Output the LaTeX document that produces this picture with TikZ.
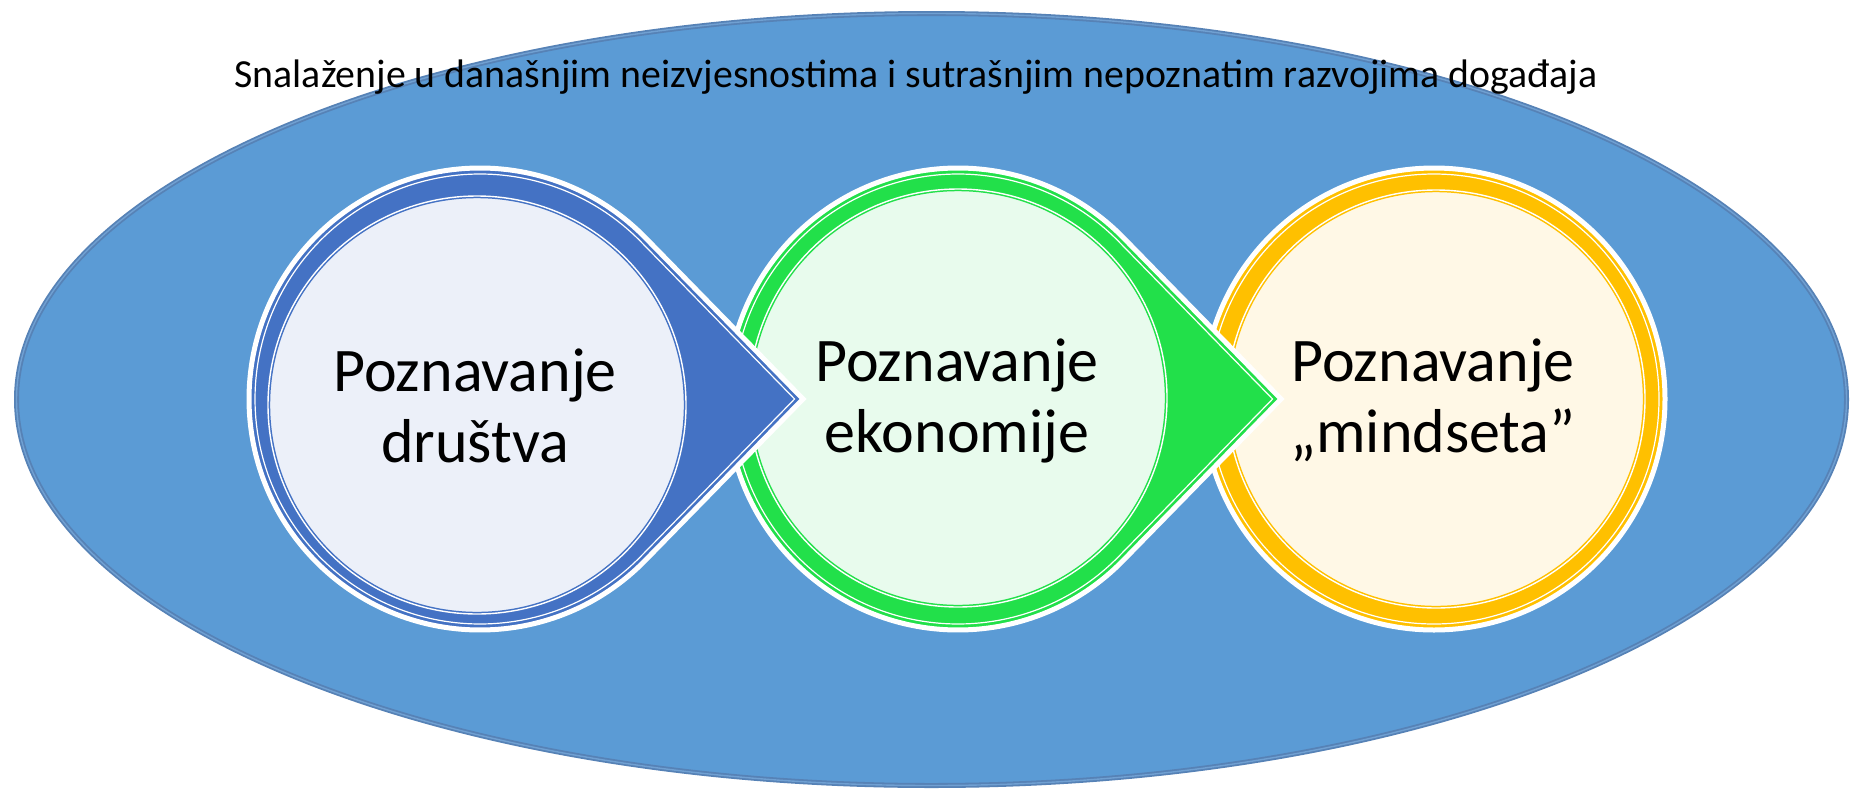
\documentclass[tikz,border=0pt]{standalone}
\usepackage{fontspec}
\setmainfont{Carlito}
\definecolor{bigfill}{RGB}{91,155,213}
\definecolor{bigedge}{RGB}{86,130,182}
\definecolor{bigdbl}{RGB}{112,160,210}
\definecolor{accA}{RGB}{68,114,196}
\definecolor{lightA}{RGB}{236,240,249}
\definecolor{accB}{RGB}{34,224,74}
\definecolor{lightB}{RGB}{232,251,237}
\definecolor{accC}{RGB}{255,192,0}
\definecolor{lightC}{RGB}{255,248,230}
\newcommand\dropshape[5]{%
  \pgfmathsetmacro\dang{acos(#3/#4)}%
  \pgfmathsetmacro\dangb{360-\dang}%
  \path[#5] (#1+#4,#2) -- ([shift={(#1,#2)}]\dang:#3)
    arc[start angle=\dang, end angle=\dangb, radius=#3] -- cycle;%
}
\begin{document}
\begin{tikzpicture}[x=1pt,y=-1pt,
  bigell/.style={fill=bigfill, draw=bigedge, line width=1.8pt, double=bigdbl, double distance=1.4pt},
  drop/.style={fill=#1, draw=white, line width=5pt, line join=miter},
  dropin/.style={draw=white, line width=1.2pt, line join=miter},
  core/.style 2 args={circle, inner sep=0pt, minimum size=418pt, fill=#2, draw=#1,
    line width=1.5pt, double=white, double distance=1.4pt},
  lbl/.style={font=\fontsize{62}{71}\selectfont, align=center, anchor=base, inner sep=0pt},
  ttl/.style={font=\fontsize{39.8}{47}\selectfont, anchor=base, inner sep=0pt}
]
\useasboundingbox (0,0) rectangle (1854,790);
\fill[white] (0,0) rectangle (1854,790);
% big ellipse
\path[bigell] (931.5,399.5) ellipse[x radius=915, y radius=386];
% stage 3 (yellow, no arrow)
\draw[drop=accC] (1434,399) circle[radius=231];
\draw[dropin] (1434,399) circle[radius=225];
\node[core={accC}{lightC}] (c3) at (1436,399) {};
% stage 2 (green)
\dropshape{958}{399}{231}{323}{drop=accB}
\dropshape{958}{399}{225}{314.6}{dropin}
\node[core={accB}{lightB}] (c2) at (958,398) {};
% stage 1 (blue)
\dropshape{480}{399}{231}{323}{drop=accA}
\dropshape{480}{399}{225}{314.6}{dropin}
\node[core={accA}{lightA}] (c1) at (477,405) {};
% texts
\node[ttl] (title) at (916,87) {Snalaženje u današnjim neizvjesnostima i sutrašnjim nepoznatim razvojima događaja};
\node[lbl] (t1) at (475,462) {Poznavanje\\društva};
\node[lbl] (t2) at (957,452) {Poznavanje\\ekonomije};
\node[lbl] (t3) at (1433,452) {Poznavanje\\„mindseta”};
\end{tikzpicture}
\end{document}
